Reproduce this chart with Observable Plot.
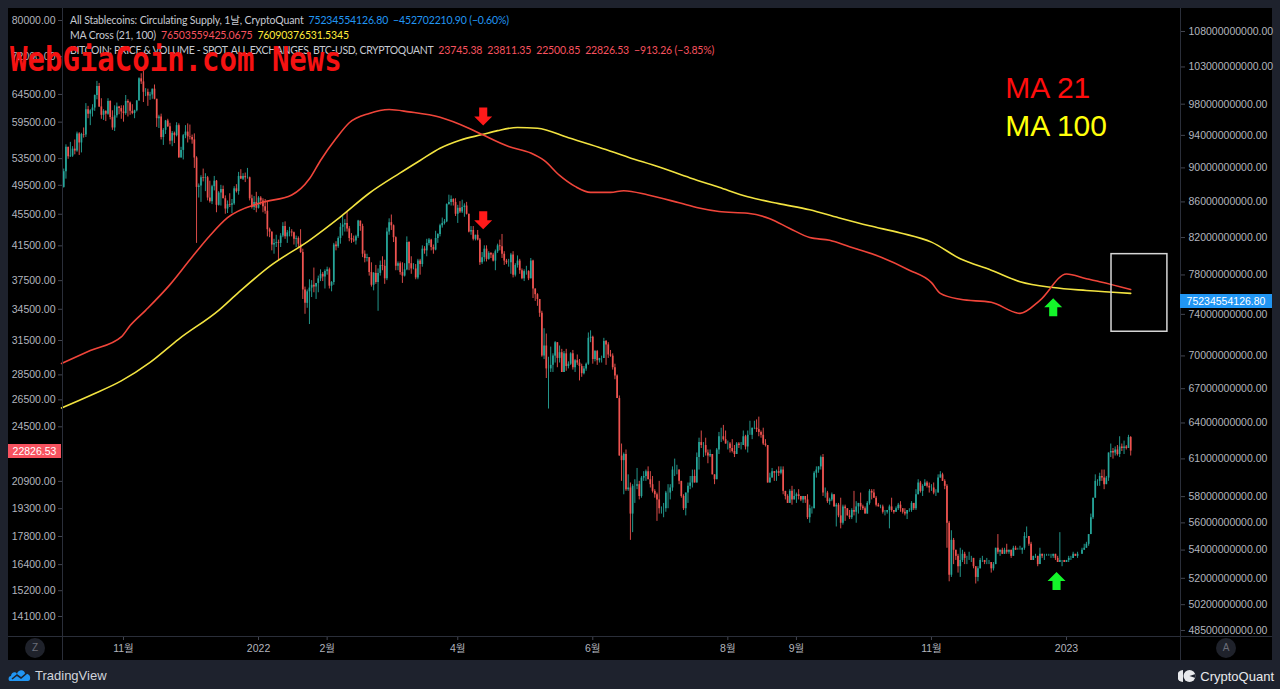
<!DOCTYPE html>
<html>
<head>
<meta charset="utf-8">
<script src="https://cdn.jsdelivr.net/npm/d3@7"></script>
<script src="https://cdn.jsdelivr.net/npm/@observablehq/plot@0.6"></script>
<style>
html,body{margin:0;padding:0;background:#1e222d;}
#wrap{position:relative;width:1280px;height:689px;overflow:hidden;background:#1e222d;font-family:"Liberation Sans",Arial,"Noto Sans CJK KR",sans-serif;}
#panel{position:absolute;left:8px;top:8px;width:1264px;height:652px;background:#000;}
.layer{position:absolute;left:0;top:0;}
.sep{position:absolute;background:#2a2e39;}
#legend{position:absolute;left:70px;top:13px;font-family:Lato,"Liberation Sans","Noto Sans CJK KR",sans-serif;font-size:10.5px;line-height:15px;color:#c6c9d1;white-space:nowrap;letter-spacing:-0.15px;}
#legend span{margin-left:5px;}
#legend .caps{letter-spacing:-0.35px;}
#wm{position:absolute;left:10px;top:42px;font-family:"DejaVu Sans Mono",monospace;font-weight:bold;font-size:29px;line-height:30px;color:#f51212;white-space:nowrap;transform:scaleY(1.15);transform-origin:0 0;}
.circ{position:absolute;width:20px;height:20px;border-radius:50%;background:#1f222b;color:#6a6d78;font-size:10px;line-height:20px;text-align:center;}
.plabel{position:absolute;height:14px;line-height:14px;font-size:10.5px;color:#fff;text-align:center;}
#tv{position:absolute;left:8px;top:666px;height:18px;display:flex;align-items:center;color:#d1d4dc;font-size:13px;}
#cq{position:absolute;right:6px;top:667px;height:18px;display:flex;align-items:center;color:#e8e9ec;font-size:13px;}
</style>
</head>
<body>
<div id="wrap">
  <div id="panel"></div>
  <div id="plots"></div>
  <div class="sep" style="left:62px;top:8px;width:1px;height:652px;"></div>
  <div class="sep" style="left:1180px;top:8px;width:1px;height:652px;"></div>
  <div class="sep" style="left:8px;top:636px;width:1264px;height:1px;"></div>
  <div class="circ" style="left:25px;top:638px;">Z</div>
  <div class="circ" style="left:1216px;top:638px;">A</div>
  <div id="legend">
    <div>All Stablecoins: Circulating Supply, 1날, CryptoQuant<span style="color:#2196f3">75234554126.80</span><span style="color:#2196f3">−452702210.90 (−0.60%)</span></div>
    <div>MA Cross (21, 100)<span style="color:#f7525f">76503559425.0675</span><span style="color:#ffeb3b">76090376531.5345</span></div>
    <div><b class="caps" style="font-weight:normal">BITCOIN: PRICE &amp; VOLUME - SPOT, ALL EXCHANGES, BTC-USD, CRYPTOQUANT</b><span style="color:#f7525f">23745.38</span><span style="color:#f7525f">23811.35</span><span style="color:#f7525f">22500.85</span><span style="color:#f7525f">22826.53</span><span style="color:#f7525f">−913.26 (−3.85%)</span></div>
  </div>
  <div id="tv">
    <svg width="24" height="16" viewBox="0 0 24 16" style="margin-right:3px">
      <path d="M2 14 C0 14 0 9 3 9 C3 5 8 4 9 7 C10 2 17 2 17 7 C20 6 23 9 22 12 C22 14 20 14 19 14 Z" fill="#2196f3"/>
      <path d="M4 12 L9 8 L13 11 L19 6" stroke="#1e222d" stroke-width="1.6" fill="none"/>
    </svg>TradingView</div>
  <div id="cq">
    <svg width="18" height="14" viewBox="0 0 18 14" style="margin-right:4px">
      <path d="M5 1 A6 6 0 0 0 5 13 Z" fill="#e8e9ec"/>
      <circle cx="11.5" cy="7" r="6" fill="#e8e9ec"/>
      <path d="M11.5 7 L17.5 5 L17.5 9 Z" fill="#1e222d"/>
    </svg>CryptoQuant</div>
  <div id="wm">WebGiaCoin.com News</div>
</div>
<script>
// ---------------- DATA ----------------
// BTC daily candles, 2021-10-05 .. 2023-01-30, values in thousands of USD
const candleStart = "2021-10-05";
const firstOpenK = 49.2;
const closeK = [
51.5,55.3,53.8,53.9,55.0,54.7,57.5,56.0,57.4,57.3,61.7,60.9,61.5,62.0,64.3,66.0,62.2,60.7,61.4,60.9,63.2,60.3,58.5,60.6,62.2,61.9,61.3,
61.0,63.2,62.9,61.4,61.0,61.5,63.3,67.5,66.9,64.9,64.9,64.2,64.4,65.5,63.6,60.1,60.4,56.9,58.1,59.7,58.7,56.3,57.6,57.2,58.9,53.6,54.8,57.2,57.8,57.0,
56.9,56.5,53.6,49.2,49.4,50.6,50.5,50.6,47.7,47.2,49.3,50.1,46.7,48.4,48.9,47.6,46.2,46.8,46.7,46.9,49.0,48.6,50.8,50.4,50.8,50.6,50.6,47.6,46.4,47.1,46.3,
47.7,47.3,46.5,45.9,43.5,43.2,41.6,41.8,41.9,41.8,42.7,43.9,42.6,43.1,43.2,43.1,42.3,42.4,41.7,40.7,36.5,35.1,36.3,36.7,37.0,36.8,37.2,37.7,38.2,37.9,38.5,
38.7,36.9,37.3,41.6,41.4,42.4,43.8,44.1,44.3,43.6,42.4,42.2,42.1,42.6,44.6,43.9,40.5,40.0,40.1,38.4,37.0,38.3,37.3,38.3,39.2,39.1,37.7,43.2,
44.4,44.0,42.5,39.1,39.4,38.4,38.0,38.7,41.9,39.4,38.8,38.8,37.8,39.7,39.3,41.1,40.9,41.8,42.2,41.3,41.0,42.4,42.9,44.0,44.3,44.5,46.8,47.1,47.5,47.1,45.5,
46.3,45.8,46.4,46.6,45.5,43.2,43.4,42.3,42.8,42.2,39.5,40.1,41.1,39.9,40.6,40.4,39.7,40.8,41.5,41.4,40.5,39.7,39.5,39.5,40.4,38.1,39.2,39.7,38.6,37.7,
38.5,38.5,37.7,39.7,36.6,36.0,35.5,34.1,30.1,31.0,29.0,29.0,29.3,30.1,31.3,29.9,30.4,28.7,30.3,29.2,29.4,30.3,29.1,29.7,29.5,29.2,28.6,29.0,29.4,31.7,31.8,
29.8,30.5,29.7,29.9,29.9,31.4,31.1,30.2,30.1,29.1,28.4,26.6,22.5,22.2,22.6,20.4,20.5,19.0,20.6,20.6,20.7,20.0,21.1,21.2,21.5,21.0,20.7,20.3,20.1,19.8,
19.3,19.3,19.3,20.2,20.2,20.5,21.6,21.6,21.6,20.9,20.0,19.3,20.2,20.6,20.8,21.2,20.8,22.4,23.4,23.2,23.2,22.7,22.5,22.6,21.3,21.0,22.9,23.8,23.8,23.6,23.3,
23.3,23.0,22.8,22.6,23.3,23.2,23.2,23.8,23.1,23.9,23.9,24.4,24.4,24.3,24.1,23.9,23.3,23.2,20.8,21.1,21.5,21.4,21.5,21.4,21.6,20.3,20.0,19.6,20.3,19.8,20.0,
20.1,20.0,19.8,20.0,19.8,18.8,19.3,19.3,21.4,21.6,21.8,22.4,20.2,20.2,19.7,19.8,20.1,19.4,19.5,18.9,18.5,19.4,19.3,18.9,18.8,19.2,19.1,19.4,19.6,19.4,
19.3,19.0,19.6,20.3,20.2,19.9,19.5,19.4,19.4,19.1,19.1,19.2,19.4,19.2,19.1,19.3,19.5,19.3,19.1,19.0,19.2,19.2,19.6,19.3,20.1,20.8,20.3,20.6,20.8,20.6,20.5,
20.5,20.2,20.2,21.1,21.3,20.9,20.6,18.5,15.9,17.6,17.1,16.8,16.3,16.6,16.9,16.7,16.7,16.7,16.7,16.3,15.8,16.2,16.6,16.6,16.5,16.5,16.5,16.2,16.4,17.2,
17.0,17.1,16.9,17.1,17.0,17.1,16.8,17.2,17.1,17.1,17.1,17.2,17.8,17.8,17.4,16.6,16.8,16.8,16.4,16.9,16.8,16.8,16.8,16.8,16.8,16.9,16.7,16.5,16.6,16.6,16.5,
16.6,16.7,16.7,16.9,16.8,16.9,16.9,17.1,17.2,17.4,17.9,18.8,19.9,20.9,20.9,21.2,21.1,20.7,21.1,22.7,22.8,22.7,22.9,22.6,23.1,23.0,23.1,23.0,23.74538,22.82653
];
const highK = [
51.9,55.7,55.3,56.1,55.4,56.5,57.8,57.7,57.6,58.5,62.8,62.3,61.7,62.6,64.4,67.0,66.6,63.7,61.7,61.5,63.7,63.3,61.5,62.4,62.9,62.3,62.4,
62.4,64.3,63.5,63.1,62.6,61.6,63.3,67.7,68.5,69.0,65.6,65.5,64.9,65.5,66.3,63.6,60.7,60.9,58.4,59.8,60.0,59.3,57.9,57.8,59.4,59.2,55.3,57.4,58.9,59.2,
59.0,57.3,57.5,53.8,49.7,50.9,51.9,51.2,50.8,50.1,49.5,50.8,50.2,48.6,49.5,49.4,48.0,47.3,48.3,47.5,49.3,49.6,51.4,51.8,51.2,51.3,52.0,50.7,48.1,47.9,48.5,
47.9,47.9,47.6,47.5,47.1,43.7,43.2,42.3,42.8,42.2,43.0,44.4,44.5,43.4,43.8,43.5,43.2,42.7,42.6,43.5,41.1,36.8,36.5,37.6,37.5,38.9,37.2,38.0,38.7,38.4,38.7,
39.0,38.9,37.4,41.8,42.0,42.6,44.3,45.3,44.8,45.8,43.9,43.0,42.7,42.8,44.7,44.6,44.2,40.9,40.5,40.1,39.5,38.4,39.2,38.8,39.7,40.2,39.8,43.7,
44.9,45.4,44.1,42.6,39.6,39.6,39.5,39.4,42.6,42.0,40.2,39.4,39.3,39.9,39.9,41.5,41.4,42.3,42.4,42.3,41.6,43.3,43.0,44.2,45.0,44.8,46.9,48.1,48.0,47.6,47.6,
46.7,47.2,47.4,46.9,47.1,45.5,43.9,43.9,42.8,43.4,42.4,40.7,41.5,41.5,40.8,40.7,40.6,41.0,41.7,42.2,42.9,40.8,39.9,39.9,40.6,40.8,39.4,40.3,39.9,38.8,
38.7,39.1,38.6,40.0,39.8,36.6,36.1,35.5,34.3,32.6,32.1,30.0,30.9,30.3,31.4,31.3,31.0,30.7,30.5,30.7,29.6,30.4,30.6,29.8,30.2,29.8,29.4,29.2,29.5,32.2,32.4,
31.9,30.6,30.6,29.9,30.1,31.7,31.5,31.3,30.6,30.3,29.4,28.5,26.8,23.3,22.7,22.9,21.3,20.8,20.7,21.0,21.7,20.9,21.2,21.5,21.6,21.8,21.5,21.2,20.4,20.2,
20.9,19.4,19.6,20.3,20.7,20.7,21.8,22.3,21.9,21.6,20.9,20.1,20.2,20.8,21.2,21.6,21.6,22.7,23.7,24.2,23.4,23.7,22.9,22.9,22.6,21.3,23.0,24.1,24.4,24.6,24.2,
23.5,23.4,23.6,23.2,23.4,23.4,23.4,24.2,23.9,24.2,24.9,24.4,24.9,25.0,25.2,24.2,24.4,23.6,23.2,21.4,21.7,21.5,21.6,21.8,21.8,21.8,20.3,20.1,20.4,20.6,20.4,
20.2,20.4,20.0,20.0,20.0,20.1,19.5,19.4,21.5,21.8,21.8,22.5,22.6,20.5,20.3,19.9,20.2,20.1,19.6,19.6,19.9,19.5,19.5,19.3,19.2,19.3,20.3,19.7,19.6,20.2,
19.5,19.4,19.7,20.4,20.4,20.4,20.0,19.6,19.5,19.5,19.2,19.2,19.5,19.9,19.2,19.4,19.6,19.7,19.3,19.3,19.2,19.3,19.7,19.6,20.4,21.0,20.9,20.7,21.0,20.9,20.8,
20.7,20.8,20.4,21.3,21.5,21.4,21.0,20.7,18.6,18.1,17.7,17.1,16.9,17.2,17.1,17.0,16.8,17.0,16.8,16.7,16.3,16.3,16.7,16.8,16.6,16.7,16.6,16.5,16.5,17.2,
17.9,17.1,17.2,17.2,17.4,17.1,17.1,17.3,17.3,17.2,17.3,17.2,18.0,18.3,17.8,17.5,16.8,16.9,16.8,17.2,16.9,16.9,16.9,16.9,16.9,16.9,16.9,16.8,18.0,16.6,16.6,
16.6,16.8,16.8,17.0,16.9,17.0,16.9,17.2,17.4,17.5,17.9,19.0,19.9,21.3,21.0,21.4,21.6,21.6,21.2,22.7,23.3,23.0,23.1,23.2,23.8,23.3,23.5,23.2,23.9,23.81135
];
const lowK = [
49.1,50.4,53.4,53.7,53.7,54.1,54.5,54.0,54.4,56.8,56.9,60.1,58.9,60.4,61.4,63.5,62.1,60.0,59.8,59.6,60.7,59.9,58.1,57.9,60.2,60.8,60.0,
59.5,60.7,60.4,60.7,60.8,60.1,61.3,63.3,66.4,63.0,64.1,62.3,63.4,63.6,63.5,58.6,58.4,56.5,55.6,57.4,58.6,55.7,55.4,55.9,57.0,53.7,53.6,53.3,56.7,56.0,
56.5,55.8,52.0,41.8,47.7,47.1,50.0,48.6,47.3,47.0,46.8,48.7,45.7,46.6,46.6,47.6,45.5,45.6,46.4,45.6,46.7,48.4,48.1,50.4,50.2,49.9,50.4,47.3,46.2,46.0,45.7,
46.2,46.7,45.7,45.5,42.6,42.5,40.9,40.5,41.3,39.7,41.3,42.5,42.3,41.8,42.6,42.6,41.6,41.3,41.2,40.6,35.5,34.0,34.6,33.0,35.7,36.2,35.5,36.2,37.4,37.4,36.6,
38.1,36.6,36.3,37.0,40.9,41.2,41.7,42.7,43.2,43.2,42.0,41.8,41.9,41.6,42.4,43.3,40.1,39.5,39.6,38.0,36.8,36.4,37.1,34.3,38.0,38.6,37.1,37.5,
42.8,43.4,41.9,38.6,38.6,38.1,37.2,37.9,38.6,38.6,38.2,38.7,37.6,37.6,38.1,39.0,40.5,40.2,41.5,40.9,40.5,40.9,41.8,42.6,43.7,44.1,44.4,46.7,46.6,46.6,45.2,
44.3,45.6,45.6,45.1,45.4,43.1,42.8,42.1,42.1,42.1,39.2,39.3,39.6,39.6,39.8,40.0,39.6,38.6,40.6,40.9,40.0,39.2,39.3,39.0,38.2,37.8,37.9,38.9,38.2,37.6,
37.4,38.1,37.5,37.7,35.6,35.3,34.8,33.7,30.0,29.8,28.2,25.8,28.7,28.7,29.5,29.1,29.5,28.7,28.7,28.8,29.0,29.3,28.9,28.7,29.3,28.0,28.3,28.5,28.8,29.3,31.3,
29.4,29.6,29.3,29.5,29.5,29.9,29.3,29.9,30.0,28.9,28.1,26.6,22.6,20.9,20.1,20.3,20.3,17.6,18.0,19.6,20.4,19.8,19.9,20.9,20.9,21.0,20.5,20.2,19.9,18.6,
19.0,19.0,18.8,19.1,19.3,19.8,20.3,21.2,21.3,20.7,19.9,19.2,18.9,19.6,20.4,20.5,20.8,20.8,21.6,23.0,22.4,22.5,22.0,22.4,21.3,20.7,21.0,22.6,23.4,23.5,23.3,
22.9,22.7,22.7,22.4,22.6,23.0,22.9,23.2,22.9,22.7,23.9,23.6,24.3,24.1,23.8,23.7,23.2,23.1,20.8,20.8,21.1,20.9,20.9,21.2,21.3,20.1,19.8,19.6,19.6,19.5,19.8,
19.6,19.8,19.7,19.6,19.6,18.7,18.5,19.0,19.3,21.1,21.4,21.6,20.0,19.9,19.6,19.5,19.7,19.4,18.3,18.8,18.2,18.4,18.6,18.9,18.7,18.7,18.9,18.5,19.0,19.2,
19.2,19.0,19.0,19.5,19.8,19.9,19.4,19.4,19.3,19.0,18.9,19.0,18.2,19.1,19.0,19.1,19.2,19.1,19.0,18.9,18.7,19.1,19.1,19.2,19.2,20.1,20.2,20.0,20.6,20.5,20.2,
20.3,20.1,20.0,20.2,21.1,20.9,20.4,17.2,15.6,15.8,16.4,16.6,16.0,15.8,16.5,16.4,16.4,16.6,16.5,16.2,15.5,15.6,16.2,16.5,16.4,16.4,16.4,16.0,16.1,16.4,
16.9,16.8,16.9,16.9,16.9,16.9,16.7,16.8,17.1,17.1,17.1,16.9,17.1,17.7,17.3,16.6,16.6,16.7,16.3,16.4,16.7,16.6,16.8,16.8,16.7,16.7,16.6,16.5,16.5,16.3,16.5,
16.5,16.5,16.6,16.7,16.8,16.7,16.9,16.9,17.1,17.2,17.3,17.9,18.7,19.9,20.6,20.6,20.9,20.4,20.7,20.9,22.4,22.3,22.5,22.5,22.4,22.8,22.6,22.9,23.0,22.50085
];

// Stablecoin supply moving averages (billions USD)
const ma21Dates = ["2021-10-04","2021-10-17","2021-10-31","2021-11-04","2021-11-11","2021-11-22","2021-12-01","2021-12-10","2021-12-18","2022-01-02","2022-01-16","2022-01-24","2022-01-29","2022-02-05","2022-02-11","2022-02-20","2022-03-01","2022-03-10","2022-03-24","2022-04-06","2022-04-12","2022-04-24","2022-05-04","2022-05-10","2022-05-17","2022-05-24","2022-05-31","2022-06-09","2022-06-15","2022-06-26","2022-07-10","2022-07-19","2022-07-28","2022-08-10","2022-08-20","2022-08-29","2022-09-07","2022-09-16","2022-09-25","2022-10-09","2022-10-22","2022-11-01","2022-11-05","2022-11-14","2022-11-28","2022-12-11","2022-12-20","2023-01-01","2023-01-10","2023-01-16","2023-01-30"];
const ma21Values = [69.3,70.5,71.8,72.9,74.4,77.0,79.6,82.2,84.2,85.9,86.8,88.7,90.9,93.6,95.6,96.8,97.3,97.0,96.3,94.9,94.1,92.6,91.8,90.9,89.1,87.8,87.1,87.1,87.3,86.8,85.9,85.3,84.9,84.7,84.1,83.0,82.0,81.7,81.0,79.9,78.5,77.2,76.1,75.5,75.2,74.1,75.4,78.1,77.6,77.3,76.5];
const ma100Dates = ["2021-10-04","2021-10-17","2021-10-31","2021-11-13","2021-11-26","2021-12-14","2021-12-23","2022-01-06","2022-01-24","2022-02-07","2022-02-20","2022-03-06","2022-03-15","2022-03-24","2022-04-02","2022-04-12","2022-04-19","2022-04-28","2022-05-07","2022-05-21","2022-06-04","2022-06-17","2022-07-01","2022-07-15","2022-07-28","2022-08-10","2022-08-24","2022-09-07","2022-09-20","2022-10-04","2022-10-18","2022-11-01","2022-11-14","2022-11-28","2022-12-11","2022-12-26","2023-01-10","2023-01-30"];
const ma100Values = [65.3,66.4,67.7,69.4,71.6,74.4,76.2,78.9,81.7,84.3,87.0,89.4,90.9,92.4,93.4,94.1,94.6,95.0,94.9,93.7,92.5,91.3,90.1,88.8,87.7,86.6,85.8,85.1,84.2,83.3,82.5,81.5,79.7,78.5,77.3,76.7,76.4,76.1];

// Current values
const lastPrice = 22826.53;
const lastSupplyB = 75.23455412680;

// Axis ticks
const leftTicks = [80000,72000,64500,59500,53500,49500,45500,41500,37500,34500,31500,28500,26500,24500,20900,19300,17800,16400,15200,14100];
const rightTicksB = [108,103,98,94,90,86,82,78,74,70,67,64,61,58,56,54,52,50.2,48.5];
const xTickDates = ["2021-11-01","2022-01-01","2022-02-01","2022-04-01","2022-06-01","2022-08-01","2022-09-01","2022-11-01","2023-01-01"];
const xTickLabels = ["11월","2022","2월","4월","6월","8월","9월","11월","2023"];

// Annotations
const maLabelText = ["MA 21", "MA 100"];
const maLabelDates = ["2022-12-04T08:00:00Z", "2022-12-04T08:00:00Z"];
const maLabelValues = [100.1, 95.1];
const boxDates = ["2023-01-21T08:00:00Z", "2023-02-15T14:00:00Z"];
const boxValues = [72.3, 80.2];
const maArrowDown = [{date: "2022-04-12T12:00:00Z", value: 96.4}];
const maArrowUp = [{date: "2022-12-26T00:00:00Z", value: 74.7}];
const priceArrowDown = [{date: "2022-04-12T12:00:00Z", value: 44700}];
const priceArrowUp = [{date: "2022-12-27T12:00:00Z", value: 15640}];

// ---------------- BUILD ----------------
const UP = "#26a69a", DOWN = "#ef5350";
const n = Math.min(closeK.length, highK.length, lowK.length);
const t0 = new Date(candleStart + "T00:00:00Z");
const candles = [];
for (let i = 0; i < n; i++) {
  const o = i === 0 ? firstOpenK : closeK[i - 1];
  const c = closeK[i];
  candles.push({
    date: d3.utcDay.offset(t0, i),
    open: o * 1000, close: c * 1000,
    high: Math.max(highK[i], o, c) * 1000,
    low: Math.min(lowK[i], o, c) * 1000
  });
}
const upC = candles.filter(d => d.close >= d.open);
const downC = candles.filter(d => d.close < d.open);
const ma21 = ma21Dates.map((d, i) => ({date: new Date(d + "T00:00:00Z"), v: ma21Values[i]}));
const ma100 = ma100Dates.map((d, i) => ({date: new Date(d + "T00:00:00Z"), v: ma100Values[i]}));
const xTicks = xTickDates.map(d => new Date(d + "T00:00:00Z"));
const fmtX = d => { const k = xTicks.findIndex(t => +t === +d); return k >= 0 ? xTickLabels[k] : ""; };
const toD = a => a.map(d => ({date: new Date(d.date), value: d.value}));
const labels = maLabelText.map((t, i) => ({text: t, date: new Date(maLabelDates[i]), value: maLabelValues[i]}));
const box = [{x1: new Date(boxDates[0]), x2: new Date(boxDates[1]), y1: boxValues[0], y2: boxValues[1]}];

function arrow(dir) {
  return {draw(ctx, size) {
    const r = Math.sqrt(size / Math.PI), s = r * 0.45, k = dir;
    ctx.moveTo(-s, -r * k); ctx.lineTo(s, -r * k); ctx.lineTo(s, 0); ctx.lineTo(r, 0);
    ctx.lineTo(0, r * k); ctx.lineTo(-r, 0); ctx.lineTo(-s, 0); ctx.closePath();
  }};
}
const DOWN_ARROW = arrow(1), UP_ARROW = arrow(-1);

const W = 1280, H = 660;
const common = {
  width: W, height: H, marginTop: 8, marginBottom: 24, marginLeft: 62, marginRight: 100,
  style: {background: "transparent", color: "#b2b5be", fontSize: "10.5px", fontFamily: '"Liberation Sans", Arial, "Noto Sans CJK KR", sans-serif', overflow: "visible"}
};
const xDomain = [new Date("2021-10-04T10:40:00Z"), new Date("2023-02-21T12:00:00Z")];

const pricePlot = Plot.plot({
  ...common,
  x: {type: "utc", domain: xDomain},
  y: {type: "log", domain: [13302, 82846]},
  marks: [
    Plot.ruleX(upC, {x: "date", y1: "low", y2: "high", stroke: UP, strokeWidth: 0.9}),
    Plot.ruleX(downC, {x: "date", y1: "low", y2: "high", stroke: DOWN, strokeWidth: 0.9}),
    Plot.ruleX(upC, {x: "date", y1: "open", y2: "close", stroke: UP, strokeWidth: 1.7}),
    Plot.ruleX(downC, {x: "date", y1: "open", y2: "close", stroke: DOWN, strokeWidth: 1.7}),
    Plot.dot(toD(priceArrowDown), {x: "date", y: "value", symbol: DOWN_ARROW, r: 9, fill: "#ff1a1a", stroke: "none"}),
    Plot.dot(toD(priceArrowUp), {x: "date", y: "value", symbol: UP_ARROW, r: 9, fill: "#14f52a", stroke: "none"}),
    Plot.axisY(leftTicks, {anchor: "left", tickFormat: d => d.toFixed(2), tickSize: 4, tickPadding: 3, color: "#b2b5be", stroke: "#434651", label: null}),
    Plot.axisX(xTicks, {anchor: "bottom", tickFormat: fmtX, tickSize: 4, tickPadding: 4, color: "#b2b5be", stroke: "#434651", label: null})
  ]
});

const maPlot = Plot.plot({
  ...common,
  x: {type: "utc", domain: xDomain, axis: null},
  y: {type: "log", domain: [48.11, 111.37]},
  marks: [
    Plot.lineY(ma100, {x: "date", y: "v", stroke: "#f2e340", strokeWidth: 1.6, curve: "monotone-x"}),
    Plot.lineY(ma21, {x: "date", y: "v", stroke: "#f0453a", strokeWidth: 1.6, curve: "monotone-x"}),
    Plot.rect(box, {x1: "x1", x2: "x2", y1: "y1", y2: "y2", fill: "none", stroke: "#d6d6d6", strokeWidth: 1.5}),
    Plot.text(labels.slice(0, 1), {x: "date", y: "value", text: "text", fill: "#ff0d0d", fontSize: 30, textAnchor: "start", fontFamily: '"Liberation Sans", Arial, sans-serif'}),
    Plot.text(labels.slice(1, 2), {x: "date", y: "value", text: "text", fill: "#ffff0a", fontSize: 30, textAnchor: "start", fontFamily: '"Liberation Sans", Arial, sans-serif'}),
    Plot.dot(toD(maArrowDown), {x: "date", y: "value", symbol: DOWN_ARROW, r: 9, fill: "#ff1a1a", stroke: "none"}),
    Plot.dot(toD(maArrowUp), {x: "date", y: "value", symbol: UP_ARROW, r: 9, fill: "#14f52a", stroke: "none"}),
    Plot.axisY(rightTicksB, {anchor: "right", tickFormat: d => (d * 1e9).toFixed(2), tickSize: 4, tickPadding: 4, color: "#b2b5be", stroke: "#434651", label: null})
  ]
});

const host = document.getElementById("plots");
pricePlot.classList.add("layer");
maPlot.classList.add("layer");
pricePlot.style.position = "absolute"; maPlot.style.position = "absolute";
host.appendChild(pricePlot);
host.appendChild(maPlot);

// current value labels positioned by the scales
const wrap = document.getElementById("wrap");
const yP = pricePlot.scale("y").apply(lastPrice);
const lp = document.createElement("div");
lp.className = "plabel";
lp.style.cssText += `left:8px;width:53px;top:${yP - 7}px;background:#f7525f;`;
lp.textContent = lastPrice.toFixed(2);
wrap.insertBefore(lp, document.getElementById("legend"));
const yS = maPlot.scale("y").apply(lastSupplyB);
const rp = document.createElement("div");
rp.className = "plabel";
rp.style.cssText += `left:1180px;width:92px;top:${yS - 7}px;background:#2196f3;`;
rp.textContent = (lastSupplyB * 1e9).toFixed(2);
wrap.insertBefore(rp, document.getElementById("legend"));
</script>
</body>
</html>
